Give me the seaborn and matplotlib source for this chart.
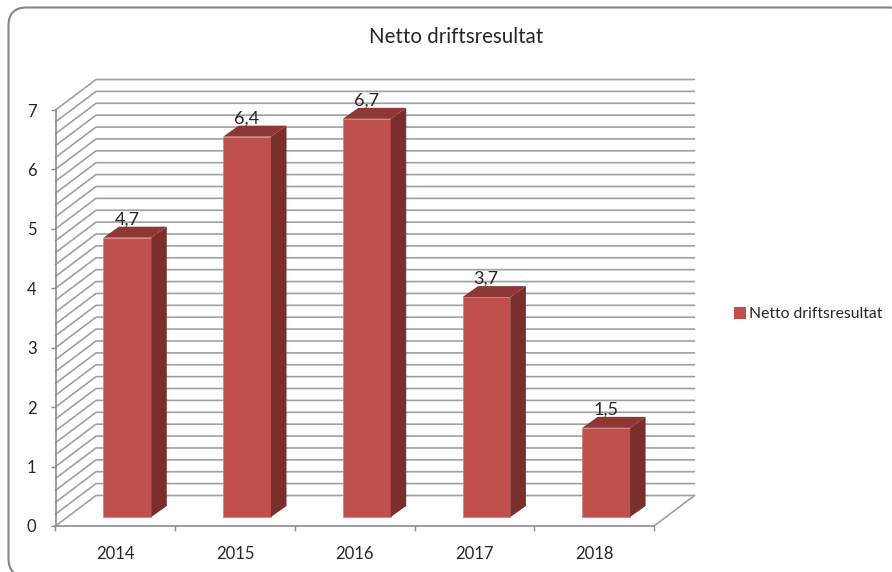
import numpy as np
import pandas as pd
import matplotlib
matplotlib.use("Agg")
import matplotlib.pyplot as plt
import seaborn as sns
from matplotlib.patches import FancyBboxPatch, Polygon
from matplotlib.lines import Line2D
from matplotlib.transforms import Affine2D, IdentityTransform

# chart data
years = ["2014", "2015", "2016", "2017", "2018"]
values = [4.7, 6.4, 6.7, 3.7, 1.5]
value_labels = ["4,7", "6,4", "6,7", "3,7", "1,5"]
series_name = "Netto driftsresultat"
chart_title = "Netto driftsresultat"
y_ticks = [0, 1, 2, 3, 4, 5, 6, 7]

# colours
face_col = "#C0504D"
side_col = "#7A2F2D"
top_col = "#8E3836"
grid_col = "#A0A0A0"
axis_col = "#8C8C8C"
text_col = "#262626"

W, H = 892, 572

# 3d look, all in pixels
wall_dx, wall_dy = 40.5, 30.5
bar_dx, bar_dy = 12, 9
depth_dx, depth_dy = 15.5, 11

sns.set_style("white")
plt.rcParams["font.family"] = ["Lato", "DejaVu Sans"]

fig = plt.figure(figsize=(W / 100, H / 100), dpi=100, facecolor="white")
ax = fig.add_axes([55.5 / W, (H - 526) / H, (654 - 55.5) / W, (526 - 110) / H])
ax.patch.set_alpha(0)
ax.set_zorder(2)

# outer rounded frame, runs off the right and bottom of the picture
to_px = Affine2D().scale(1, -1).translate(0, H)
frame = FancyBboxPatch((26.5, 25.5), 862, 533, boxstyle="round,pad=18,rounding_size=18",
                       fc="white", ec="#868686", lw=1.5, transform=to_px, clip_on=False, zorder=0)
fig.add_artist(frame)

df = pd.DataFrame({"year": years, "value": values})
sns.barplot(data=df, x="year", y="value", color=face_col, saturation=1, width=0.4,
            ax=ax, label=series_name, legend=False, zorder=3)
ax.set_xlim(-0.5, 4.5)
ax.set_ylim(0, 7)
ax.set_xlabel("")
ax.set_ylabel("")

# back wall grid lines, every 0.2
for level in np.arange(0, 7.01, 0.2):
    x0, y0 = ax.transData.transform((-0.5, level))
    x1, _ = ax.transData.transform((4.5, level))
    line = Line2D([x0, x0 + wall_dx, x1 + wall_dx],
                  [y0, y0 + wall_dy, y0 + wall_dy],
                  color=grid_col, lw=1.2, transform=IdentityTransform(), zorder=1)
    fig.add_artist(line)

# floor edge on the right
xr, yr = ax.transData.transform((4.5, 0))
fig.add_artist(Line2D([xr, xr + wall_dx], [yr, yr + wall_dy], color=grid_col, lw=1.2,
                      transform=IdentityTransform(), zorder=1))

# shift the front faces back a bit and add the side and top faces
shift = ax.transData + Affine2D().translate(bar_dx, bar_dy)
for bar in ax.patches:
    (xa, ya), (xb, yb) = ax.transData.transform(
        [(bar.get_x(), bar.get_y()), (bar.get_x() + bar.get_width(), bar.get_height())])
    xa, xb = xa + bar_dx, xb + bar_dx
    ya, yb = ya + bar_dy, yb + bar_dy
    bar.set_transform(shift)
    bar.set_clip_on(False)
    bar.set_edgecolor("#CE7C79")
    bar.set_linewidth(0.5)
    side = Polygon([(xb, ya), (xb + depth_dx, ya + depth_dy), (xb + depth_dx, yb + depth_dy), (xb, yb)],
                   fc=side_col, ec="none", transform=IdentityTransform(), clip_on=False, zorder=3)
    top = Polygon([(xa, yb), (xa + depth_dx, yb + depth_dy), (xb + depth_dx, yb + depth_dy), (xb, yb)],
                  fc=top_col, ec="none", transform=IdentityTransform(), clip_on=False, zorder=3)
    ax.add_artist(side)
    ax.add_artist(top)

# data labels
for i, (val, lab) in enumerate(zip(values, value_labels)):
    ax.annotate(lab, (i, val), xytext=((bar_dx - 0.5) * 0.72, (bar_dy + 18.5) * 0.72),
                textcoords="offset points", ha="center", va="center",
                fontsize=13, color=text_col, annotation_clip=False, zorder=5)

# axes
sns.despine(ax=ax)
for name in ["left", "bottom"]:
    ax.spines[name].set_color(axis_col)
    ax.spines[name].set_linewidth(1.2)
    ax.spines[name].set_zorder(2)

ax.set_yticks(y_ticks)
ax.tick_params(axis="y", which="major", left=True, length=3.6, width=1, color=axis_col,
               labelsize=12, labelcolor=text_col, pad=10)
ax.set_xticks(np.arange(-0.5, 5), labels=[""] * 6)
ax.set_xticks(np.arange(5), labels=years, minor=True)
ax.tick_params(axis="x", which="major", bottom=True, length=3.6, width=1, color=axis_col)
ax.tick_params(axis="x", which="minor", bottom=False, length=0, labelsize=12,
               labelcolor=text_col, pad=14.5)

# title and legend
fig.text(456 / W, (H - 37) / H, chart_title, ha="center", va="center", fontsize=14.8, color=text_col)

legend_swatch = plt.Rectangle((0, 0), 1, 1, fc=face_col, ec="none")
fig.legend([legend_swatch], [series_name], loc="center left",
           bbox_to_anchor=(721 / W, (H - 314) / H), frameon=False, fontsize=11.3,
           handlelength=0.8, handleheight=0.8, handletextpad=0.2, labelcolor=text_col,
           borderpad=0.3)

fig.savefig("out.png", dpi=100, facecolor="white")
